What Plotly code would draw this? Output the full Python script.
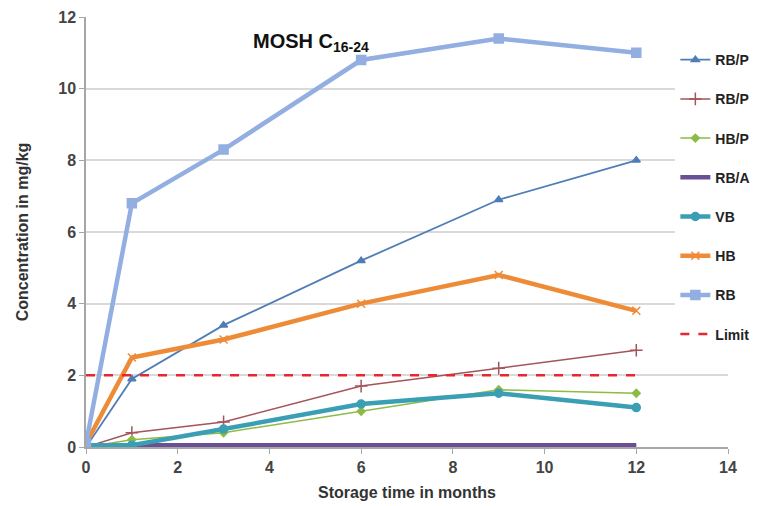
import plotly.graph_objects as go

months = [0, 1, 3, 6, 9, 12]
rbp1 = [0.0, 1.9, 3.4, 5.2, 6.9, 8.0]
rbp2 = [0.0, 0.4, 0.7, 1.7, 2.2, 2.7]
hbp = [0.0, 0.2, 0.4, 1.0, 1.6, 1.5]
rba = [0.05, 0.05, 0.05, 0.05, 0.05, 0.05]
vb = [0.05, 0.05, 0.5, 1.2, 1.5, 1.1]
hb = [0.1, 2.5, 3.0, 4.0, 4.8, 3.8]
rb = [0.1, 6.8, 8.3, 10.8, 11.4, 11.0]
limit_x = [0, 12]
limit_y = [2, 2]

FONT = "Liberation Sans, Arial, sans-serif"

fig = go.Figure()

series = [
    ("RB/P", rbp1, "#4f7db5", 1.8, "triangle-up", 7),
    ("RB/P", rbp2, "#a4545a", 1.5, "cross-thin-open", 9),
    ("HB/P", hbp, "#8dbb44", 1.5, "diamond", 6),
    ("RB/A", rba, "#6a4f94", 4.5, "circle", 0.1),
    ("VB", vb, "#3a9fb5", 4.5, "circle", 8),
    ("HB", hb, "#ee8b36", 4.5, "x-thin-open", 8),
    ("RB", rb, "#93aee0", 4.5, "square", 9),
]

for i, (name, ys, col, w, sym, ms) in enumerate(series):
    fig.add_trace(go.Scatter(
        x=months, y=ys, name=name, mode="lines+markers",
        line=dict(color=col, width=w),
        marker=dict(symbol=sym, size=ms, color=col, line=dict(color=col, width=1.5)),
        legendgroup=f"g{i}",
    ))

fig.add_trace(go.Scatter(
    x=limit_x, y=limit_y, name="Limit", mode="lines",
    line=dict(color="#e8262e", width=2.5, dash="dash"),
    legendgroup="g7",
))

fig.add_annotation(
    xref="x", yref="y", x=4.9, y=11.3,
    text="<b>MOSH C<sub>16-24</sub></b>", showarrow=False,
    font=dict(family=FONT, size=20, color="#111"),
)

fig.update_layout(
    width=767, height=506,
    margin=dict(l=86, r=34, t=17, b=59),
    plot_bgcolor="white", paper_bgcolor="white",
    font=dict(family=FONT, size=13, color="#333"),
    showlegend=True,
    legend=dict(
        x=0.918, y=0.937, xanchor="left", yanchor="top",
        bgcolor="white", borderwidth=0,
        font=dict(family=FONT, size=14, color="#222", weight="bold"),
        tracegroupgap=18, itemwidth=30,
    ),
    xaxis=dict(
        range=[0, 14], tickvals=[0, 2, 4, 6, 8, 10, 12, 14],
        showgrid=False, zeroline=False, automargin=False,
        showline=True, linecolor="#a6a6a6", linewidth=1.5,
        ticks="outside", ticklen=5, tickcolor="#a6a6a6",
        tickfont=dict(family=FONT, size=16, color="#444", weight="bold"),
        title=dict(text="<b>Storage time in months</b>", standoff=12,
                   font=dict(family=FONT, size=16, color="#333")),
    ),
    yaxis=dict(
        range=[0, 12], tickvals=[0, 2, 4, 6, 8, 10, 12],
        showgrid=True, gridcolor="#d9d9d9", gridwidth=1.5, zeroline=False,
        automargin=False,
        showline=True, linecolor="#a6a6a6", linewidth=1.5,
        ticks="outside", ticklen=5, tickcolor="#a6a6a6",
        tickfont=dict(family=FONT, size=16, color="#444", weight="bold"),
        title=dict(text="<b>Concentration in mg/kg</b>", standoff=26,
                   font=dict(family=FONT, size=16, color="#333")),
    ),
)

fig.write_html("out.html")
